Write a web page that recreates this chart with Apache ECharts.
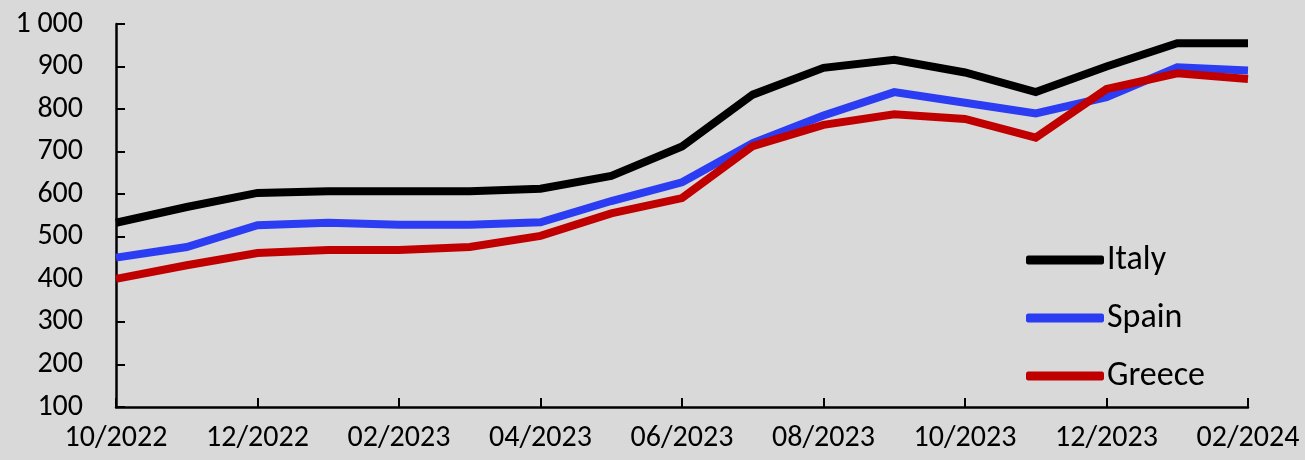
<!DOCTYPE html>
<html>
<head>
<meta charset="utf-8">
<script src="https://cdn.jsdelivr.net/npm/echarts@6/dist/echarts.min.js"></script>
<style>
  html, body { margin: 0; padding: 0; background: #d9d9d9; }
  #main { width: 1305px; height: 460px; }
</style>
</head>
<body>
<div id="main"></div>
<script>
'use strict';

// monthly, 10/2022 .. 02/2024
const months = [
  '10/2022', '11/2022', '12/2022', '01/2023', '02/2023', '03/2023', '04/2023', '05/2023',
  '06/2023', '07/2023', '08/2023', '09/2023', '10/2023', '11/2023', '12/2023', '01/2024', '02/2024'
];
const italy  = [533, 570, 603, 607, 607, 607, 613, 643, 712, 834, 897, 916, 886, 840, 900, 955, 955];
const spain  = [451, 476, 527, 533, 528, 528, 534, 584, 628, 720, 785, 840, 815, 790, 828, 898, 891];
const greece = [401, 433, 462, 469, 469, 476, 502, 555, 591, 713, 763, 788, 777, 733, 847, 884, 871];
const yTicks = [100, 200, 300, 400, 500, 600, 700, 800, 900, 1000];

const FONT = 'Carlito, "Liberation Sans Narrow", "Open Sans", sans-serif';

let myChart = echarts.init(document.getElementById('main'));

function mkSeries(name, data, color) {
  return {
    name: name,
    type: 'line',
    data: data,
    symbol: 'none',
    lineStyle: { color: color, width: 8, cap: 'butt', join: 'miter' },
    itemStyle: { color: color }
  };
}

let option = {
  backgroundColor: '#d9d9d9',
  animation: false,
  grid: { left: 116, right: 57, top: 24, bottom: 53 },
  legend: {
    orient: 'vertical',
    left: 1021,
    top: 237,
    itemWidth: 78,
    itemHeight: 9,
    itemGap: 22,
    icon: 'roundRect',
    textStyle: { fontFamily: FONT, fontSize: 34, color: '#000', lineHeight: 36, padding: [0, 0, 0, -2] },
    data: ['Italy', 'Spain', 'Greece']
  },
  xAxis: {
    type: 'category',
    data: months,
    boundaryGap: false,
    axisLine: { lineStyle: { color: '#000', width: 2.5 } },
    axisTick: { inside: true, length: 9, interval: 1, lineStyle: { color: '#000', width: 2 } },
    axisLabel: { interval: 1, margin: 16, fontFamily: FONT, fontSize: 30, color: '#000' }
  },
  yAxis: {
    type: 'value',
    min: yTicks[0],
    max: yTicks[yTicks.length - 1],
    interval: 100,
    splitLine: { show: false },
    axisLine: { show: true, lineStyle: { color: '#000', width: 2.5 } },
    axisTick: { show: true, inside: true, length: 9, lineStyle: { color: '#000', width: 2 } },
    axisLabel: {
      margin: 33,
      fontFamily: FONT, fontSize: 30, color: '#000',
      formatter: function(v) { return v >= 1000 ? Math.floor(v / 1000) + ' ' + String(v % 1000).padStart(3, '0') : String(v); }
    }
  },
  series: [
    mkSeries('Italy', italy, '#000000'),
    mkSeries('Spain', spain, '#2b3cf2'),
    mkSeries('Greece', greece, '#c00000')
  ]
};

myChart.setOption(option);
</script>
</body>
</html>
